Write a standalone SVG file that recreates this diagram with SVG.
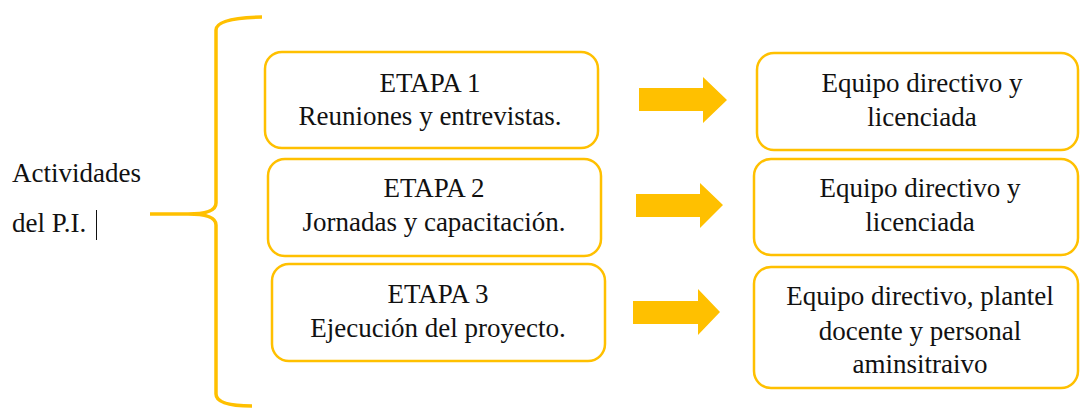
<svg xmlns="http://www.w3.org/2000/svg" width="1080" height="408" viewBox="0 0 1080 408">
<style>
.box{fill:#fff;stroke:#FFC000;stroke-width:2.5}
.arr{fill:#FFC000}
.t{font-family:"Liberation Serif","Times New Roman",serif;font-size:27px;fill:#111;text-anchor:middle}
.tl{font-family:"Liberation Serif","Times New Roman",serif;font-size:27px;fill:#111}
</style>
<rect width="1080" height="408" fill="#fff"/>
<g id="label">
<text class="tl" x="12" y="182">Actividades</text>
<text class="tl" x="12" y="232">del P.I.</text>
<line x1="96.5" y1="210" x2="96.5" y2="240" stroke="#111" stroke-width="1"/>
</g>
<g id="brace">
<path d="M262,17 Q216,18 216,30 L216,203 Q216,214 188,214 L150,214 M188,214 Q216,214 216,225 L216,394 Q216,406 252,406" fill="none" stroke="#FFC000" stroke-width="3.5"/>
</g>
<g id="etapa1">
<rect class="box" x="265" y="52" width="333" height="96" rx="17"/>
<text class="t" x="430" y="92">ETAPA 1</text>
<text class="t" x="430" y="125">Reuniones y entrevistas.</text>
</g>
<g id="etapa2">
<rect class="box" x="268" y="159" width="333" height="97" rx="17"/>
<text class="t" x="434" y="197">ETAPA 2</text>
<text class="t" x="434" y="231">Jornadas y capacitación.</text>
</g>
<g id="etapa3">
<rect class="box" x="272" y="264" width="333" height="97" rx="17"/>
<text class="t" x="438" y="303">ETAPA 3</text>
<text class="t" x="438" y="337">Ejecución del proyecto.</text>
</g>
<g id="resp1">
<rect class="box" x="757" y="53" width="321" height="97" rx="17"/>
<text class="t" x="922" y="92">Equipo directivo y</text>
<text class="t" x="922" y="126">licenciada</text>
</g>
<g id="resp2">
<rect class="box" x="754" y="159" width="324" height="96" rx="17"/>
<text class="t" x="920" y="197">Equipo directivo y</text>
<text class="t" x="920" y="231">licenciada</text>
</g>
<g id="resp3">
<rect class="box" x="754" y="267" width="324" height="121" rx="17"/>
<text class="t" x="920" y="305">Equipo directivo, plantel</text>
<text class="t" x="920" y="340">docente y personal</text>
<text class="t" x="920" y="373">aminsitraivo</text>
</g>
<g id="connectors">
<polygon class="arr" points="639,88 703,88 703,77 727,100 703,123 703,111 639,111"/>
<polygon class="arr" points="636,194 700,194 700,183 723,205 700,228 700,217 636,217"/>
<polygon class="arr" points="633,301 698,301 698,289 720,312 698,335 698,324 633,324"/>
</g>
</svg>
